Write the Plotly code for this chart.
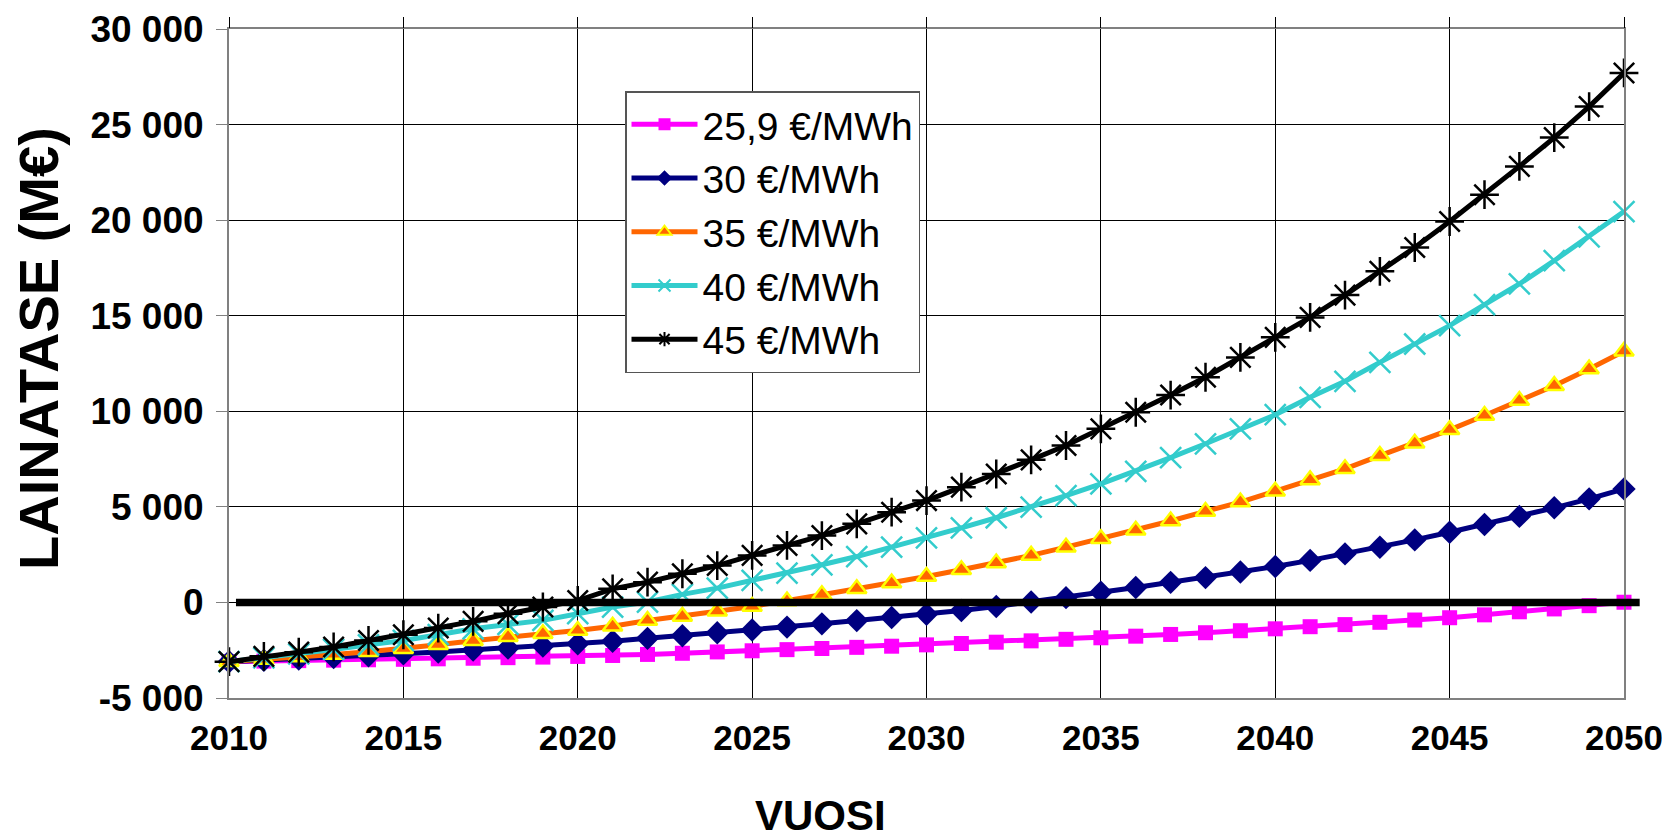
import plotly.graph_objects as go

years = list(range(2010, 2051))

s259 = [-3100, -3070, -3045, -3020, -3000, -2975, -2950, -2920, -2890, -2860,
        -2825, -2775, -2720, -2660, -2590, -2530, -2470, -2410, -2350, -2290,
        -2220, -2150, -2080, -2010, -1930, -1850, -1765, -1675, -1585, -1480,
        -1380, -1270, -1160, -1040, -920, -800, -650, -490, -340, -170, 10]
s30 = [-3100, -3030, -2960, -2880, -2790, -2690, -2590, -2490, -2390, -2280,
       -2160, -2030, -1880, -1740, -1590, -1440, -1290, -1120, -950, -790,
       -620, -420, -210, 20, 250, 530, 780, 1050, 1300, 1590,
       1880, 2200, 2540, 2890, 3270, 3670, 4080, 4500, 4950, 5420, 5940]
s35 = [-3100, -2990, -2860, -2720, -2580, -2420, -2220, -2000, -1790, -1640,
       -1470, -1250, -950, -730, -460, -210, 70, 400, 715, 1010,
       1360, 1710, 2060, 2460, 2890, 3330, 3770, 4260, 4760, 5250,
       5820, 6410, 6990, 7680, 8330, 9030, 9780, 10560, 11340, 12210, 13140]
s40 = [-3100, -2900, -2690, -2460, -2220, -1990, -1690, -1380, -1150, -940,
       -590, -240, 20, 420, 750, 1150, 1530, 1970, 2400, 2890,
       3380, 3900, 4430, 4980, 5590, 6200, 6860, 7580, 8300, 9080,
       9820, 10730, 11570, 12560, 13520, 14480, 15580, 16660, 17880, 19130, 20450]
s45 = [-3100, -2820, -2600, -2330, -1990, -1690, -1340, -990, -590, -240,
       100, 710, 1060, 1500, 1930, 2460, 2980, 3500, 4110, 4720,
       5330, 6030, 6720, 7460, 8210, 9080, 9950, 10850, 11780, 12820,
       13870, 14910, 16080, 17320, 18570, 19930, 21330, 22810, 24320, 25940, 27700]

# horizontal reference line at zero (from just after 2010 to a bit past 2050)
zero_x = [2010.2, 2050.45]
zero_y = [0, 0]

series_names = ["25,9 €/MWh", "30 €/MWh", "35 €/MWh", "40 €/MWh", "45 €/MWh"]

y_tickvals = [-5000, 0, 5000, 10000, 15000, 20000, 25000, 30000]
y_ticktext = ["-5 000", "0", "5 000", "10 000", "15 000", "20 000", "25 000", "30 000"]
x_tickvals = [2010, 2015, 2020, 2025, 2030, 2035, 2040, 2045, 2050]

X_RANGE = [2010, 2050]
FONT = "Liberation Sans, Arial, sans-serif"

fig = go.Figure()

styles = [
    dict(line=dict(color="#FF00FF", width=5),
         marker=dict(symbol="square", size=15, color="#FF00FF")),
    dict(line=dict(color="#000080", width=5),
         marker=dict(symbol="diamond", size=18, color="#000080")),
    dict(line=dict(color="#FF6600", width=5),
         marker=dict(symbol="triangle-up", size=17, color="#FF6600",
                     line=dict(color="#FFFF00", width=2.5))),
    dict(line=dict(color="#33CCCC", width=5),
         marker=dict(symbol="x-thin-open", size=21, color="#33CCCC",
                     line=dict(color="#33CCCC", width=2.5))),
    dict(line=dict(color="black", width=5),
         marker=dict(symbol="asterisk-open", size=24, color="black",
                     line=dict(color="black", width=2.5))),
]
for name, ys, st in zip(series_names, [s259, s30, s35, s40, s45], styles):
    fig.add_trace(go.Scatter(x=years, y=ys, mode="lines+markers", name=name,
                             line=st["line"], marker=st["marker"], cliponaxis=False))

# invisible trace to carry the top tick axis
fig.add_trace(go.Scatter(x=X_RANGE, y=[0, 0], xaxis="x2", mode="lines",
                         line=dict(width=0), showlegend=False, hoverinfo="skip"))

span = X_RANGE[1] - X_RANGE[0]
fig.add_shape(type="line", xref="paper", yref="y", layer="above",
              x0=(zero_x[0] - X_RANGE[0]) / span, x1=(zero_x[1] - X_RANGE[0]) / span,
              y0=zero_y[0], y1=zero_y[1],
              line=dict(color="black", width=7.5))

# page body has an 8px default margin, so margins are reduced by 8px on left/top
fig.update_layout(
    width=1670, height=838,
    margin=dict(l=221, r=54, t=21, b=148),
    paper_bgcolor="white", plot_bgcolor="white",
    separators=", ",
    font=dict(family=FONT, color="black"),
    showlegend=True,
    legend=dict(x=(625 - 229) / 1395, y=(698 - 91) / 669, xanchor="left", yanchor="top",
                bgcolor="white", bordercolor="#555555", borderwidth=1.5,
                font=dict(family=FONT, size=39, color="black"),
                itemsizing="constant", itemwidth=66, tracegroupgap=0),
    xaxis=dict(range=X_RANGE, tickvals=x_tickvals, showgrid=True, automargin=False,
               gridcolor="black", gridwidth=1, zeroline=False,
               showline=True, linecolor="#808080", linewidth=2, mirror=True,
               ticks="", tickfont=dict(family=FONT, size=35, color="black", weight="bold"),
               ticklabelstandoff=8),
    xaxis2=dict(range=X_RANGE, overlaying="x", side="top", tickvals=x_tickvals,
                showticklabels=False, ticks="outside", ticklen=11, tickcolor="black",
                tickwidth=1, showgrid=False, zeroline=False, showline=False,
                automargin=False),
    yaxis=dict(range=[-5000, 30000], tickvals=y_tickvals, ticktext=y_ticktext,
               showgrid=True, gridcolor="black", gridwidth=1, zeroline=False,
               showline=True, linecolor="#808080", linewidth=2, mirror=True,
               automargin=False,
               ticks="outside", ticklen=11, tickcolor="#808080", tickwidth=1,
               tickfont=dict(family=FONT, size=37, color="black", weight="bold"),
               ticklabelstandoff=5),
    annotations=[
        dict(text="<b>LAINATASE (M€)</b>", textangle=-90, xref="paper", yref="paper",
             x=(38 - 229) / 1395, y=(698 - 349) / 669, xanchor="center", yanchor="middle",
             showarrow=False, font=dict(family=FONT, size=56, color="black")),
        dict(text="<b>VUOSI</b>", xref="paper", yref="paper",
             x=(820 - 229) / 1395, y=(698 - 815) / 669, xanchor="center", yanchor="middle",
             showarrow=False, font=dict(family=FONT, size=42, color="black")),
    ],
)

fig.write_html("out.html")
